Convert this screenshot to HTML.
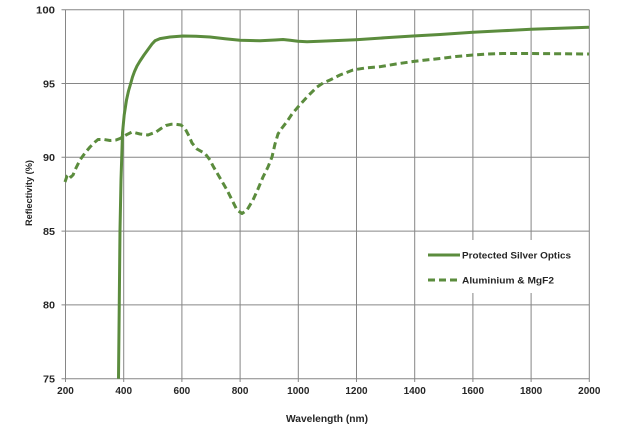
<!DOCTYPE html>
<html>
<head>
<meta charset="utf-8">
<style>
html,body{margin:0;padding:0;background:#fff;}
svg{display:block;}
text{font-family:"Liberation Sans",Arial,sans-serif;font-weight:bold;fill:#262626;}
</style>
</head>
<body>
<svg width="617" height="427" viewBox="0 0 617 427" xmlns="http://www.w3.org/2000/svg">
<rect width="617" height="427" fill="#fff"/>
<g stroke="#868686" stroke-width="1" fill="none">
  <line x1="65.5" y1="9.7" x2="65.5" y2="382"/>
  <line x1="123.7" y1="9.7" x2="123.7" y2="382"/>
  <line x1="181.9" y1="9.7" x2="181.9" y2="382"/>
  <line x1="240.1" y1="9.7" x2="240.1" y2="382"/>
  <line x1="298.3" y1="9.7" x2="298.3" y2="382"/>
  <line x1="356.5" y1="9.7" x2="356.5" y2="382"/>
  <line x1="414.7" y1="9.7" x2="414.7" y2="382"/>
  <line x1="472.9" y1="9.7" x2="472.9" y2="382"/>
  <line x1="531.1" y1="9.7" x2="531.1" y2="382"/>
  <line x1="589.3" y1="9.7" x2="589.3" y2="382"/>
  <line x1="61.5" y1="9.7" x2="589.3" y2="9.7"/>
  <line x1="61.5" y1="83.5" x2="589.3" y2="83.5"/>
  <line x1="61.5" y1="157.3" x2="589.3" y2="157.3"/>
  <line x1="61.5" y1="231.1" x2="589.3" y2="231.1"/>
  <line x1="61.5" y1="304.9" x2="589.3" y2="304.9"/>
  <line x1="61.5" y1="378.7" x2="589.3" y2="378.7"/>
</g>
<rect x="420" y="240" width="165" height="53" fill="#fff"/>

<g font-size="10" text-anchor="end">
  <text x="55" y="13.5" textLength="19" lengthAdjust="spacingAndGlyphs">100</text>
  <text x="55" y="87.3" textLength="12" lengthAdjust="spacingAndGlyphs">95</text>
  <text x="55" y="161.1" textLength="12" lengthAdjust="spacingAndGlyphs">90</text>
  <text x="55" y="234.9" textLength="12" lengthAdjust="spacingAndGlyphs">85</text>
  <text x="55" y="308.7" textLength="12" lengthAdjust="spacingAndGlyphs">80</text>
  <text x="55" y="382.5" textLength="12" lengthAdjust="spacingAndGlyphs">75</text>
</g>
<g font-size="10" text-anchor="middle">
  <text x="65.5" y="394">200</text>
  <text x="123.7" y="394">400</text>
  <text x="181.9" y="394">600</text>
  <text x="240.1" y="394">800</text>
  <text x="298.3" y="394">1000</text>
  <text x="356.5" y="394">1200</text>
  <text x="414.7" y="394">1400</text>
  <text x="472.9" y="394">1600</text>
  <text x="531.1" y="394">1800</text>
  <text x="589.3" y="394">2000</text>
</g>
<text x="327" y="422" font-size="10" text-anchor="middle" textLength="82" lengthAdjust="spacingAndGlyphs">Wavelength (nm)</text>
<text transform="translate(32,193) rotate(-90)" font-size="9.5" text-anchor="middle" textLength="66" lengthAdjust="spacingAndGlyphs">Reflectivity (%)</text>

<polyline fill="none" stroke="#5b8c3d" stroke-width="3" stroke-linejoin="round" stroke-linecap="butt"
 points="118.5,378.7 119.3,300 120,230 121,180 122.5,133 124.2,115 126.5,100 128.5,91 130.7,83.5 132.5,77 134.5,71.5 137,66 140,61 144,55 148,49.5 152,44 155,40.8 160,38.6 170,37 183,36 196,36.3 210,37 225,38.7 240,40.3 260,40.8 275,40 283,39.5 290,40.3 298,41.3 307,41.7 320,41.3 338,40.5 356,39.7 385,37.8 413,36 440,34.5 473,32.3 502,30.8 531,29.3 560,28.3 589,27.3"/>
<polyline fill="none" stroke="#5b8c3d" stroke-width="3" stroke-dasharray="7,4" stroke-linejoin="round"
 points="65,182 67,176 69,174 71,177 73,175 76,168 80,160 85,153 90,147 95,142 98,139.5 104,139.5 110,140.5 116,140 120,138.5 126,135 132,132 140,134 148,135 156,132 161,128.5 166,125.5 171,124.3 176,124.3 181,125 185,128.5 189,136 192,143 197,149 205,153.5 210,160 213,166 220,178 227,190 232,200 237,210 242,213.5 247,210 253,200 258,189 263,177 268,167 272,157 275,144 278,134 282,128 287,121.5 292,114 298,107 307,97 317,87 323,83 330,80 340,75 353,70 365,68 380,66.7 396,64 413,61.5 426,60 440,58.5 456,56.5 473,55 488,54 503,53.5 530,53.5 589,54"/>

<line x1="428" y1="255" x2="460" y2="255" stroke="#5b8c3d" stroke-width="3"/>
<line x1="428" y1="280" x2="458" y2="280" stroke="#5b8c3d" stroke-width="3" stroke-dasharray="7,4"/>
<text x="462" y="258.5" font-size="9" textLength="109" lengthAdjust="spacingAndGlyphs">Protected Silver Optics</text>
<text x="462" y="283.5" font-size="9" textLength="92" lengthAdjust="spacingAndGlyphs">Aluminium &amp; MgF2</text>
</svg>
</body>
</html>
